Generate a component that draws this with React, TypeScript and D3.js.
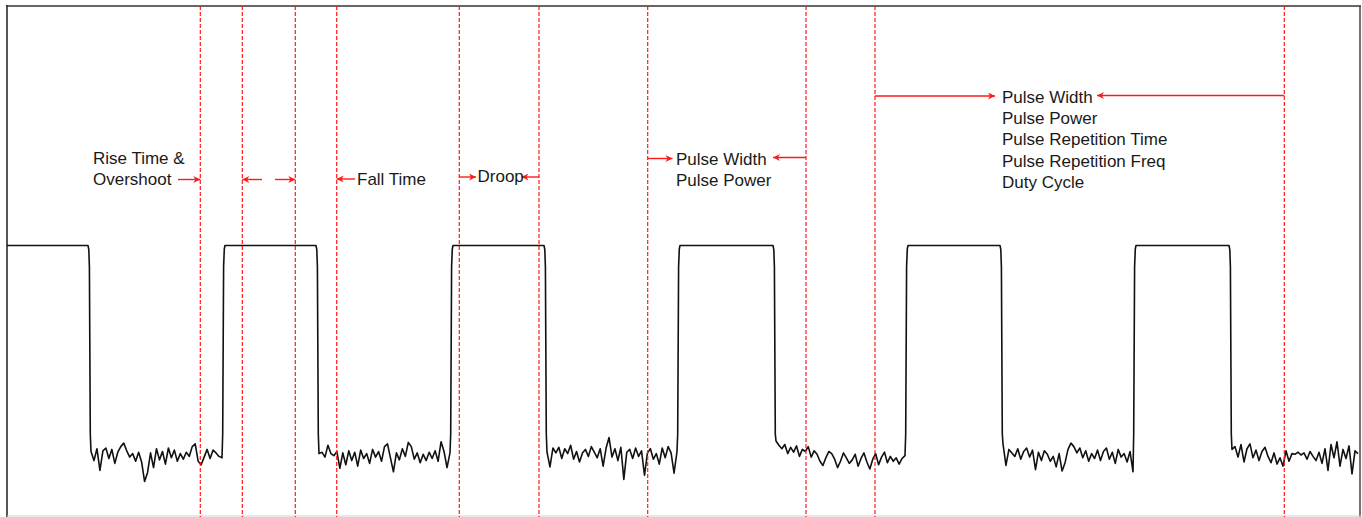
import React from "react";
import * as d3 from "d3";

const W = 1362;
const H = 517;

// Signal levels (dB, relative)
const highLevel = 0;
const lowLevel = -30;

// Edge timing (time units)
const fallStarts = [81, 309, 537, 766, 993, 1222];
const riseStarts = [215, 443, 670, 898, 1126];
const edgeDuration = 3;
const endTime = 1351;

// Noise on the "off" level, per low segment (dB offset from low level)
const noise1 = [0.5, -0.8, 0.9, -2.2, 0.6, 1.0, -0.5, 0.8, -1.2, 0.4, 1.2, 1.7, 0.6, -0.3, 0.2, -0.9, 0.4, -1.0, -3.8, -2.5, 0.3, -1.8, 0.9, -0.7, 0.5, -1.3, 1.0, -0.4, 0.7, -0.9, 0.2, -0.6, 0.4, -0.2, 1.2, 1.6, -0.9, -1.4, -0.3, 0.8, -0.5, 0.7, 0.3, -0.2, -0.4];
const noise2 = [0.2, 0.4, -0.3, 1.4, 0.2, -0.1, 0.5, -1.9, 0.3, -1.4, 0.6, -0.8, 0.4, -1.6, 0.7, -0.5, 0.2, -1.2, 0.8, -0.3, 0.5, -0.9, 1.2, 1.6, -0.4, -2.4, 0.3, -0.7, 0.9, -0.2, 1.8, 1.2, -0.6, 0.3, -1.1, 0.1, -0.8, 0.4, -0.5, 0.6, -0.9, 1.9, 0.5, -1.8, 0.3];
const noise3 = [0.4, -1.7, 1.0, 0.3, 1.1, -0.5, 0.9, 0.2, 1.4, -0.6, 0.5, -1.0, 0.3, 0.8, -0.2, 1.2, 0.4, -0.4, 0.9, -1.6, 1.0, 2.5, -0.3, 0.9, -0.8, 1.1, -3.5, 0.4, 0.8, -0.5, 1.0, -0.2, 0.6, -2.9, 0.3, 0.9, -0.6, 0.2, -1.3, 1.0, -0.4, 1.2, 0.3, -2.6, 0.5];
const noise4 = [2.0, 1.4, 0.9, 1.5, 0.2, 1.1, 0.4, 1.3, -0.2, 0.8, 0.5, 1.2, -0.3, 0.6, 0.1, -0.9, -1.5, -0.4, 0.5, 0.2, -0.6, -1.8, -0.9, 0.3, -0.4, -1.2, -0.7, 0.1, -1.6, -0.5, 0.3, -1.0, -2.0, -0.6, 0.2, -1.4, -0.3, 0.4, -1.1, -0.2, -0.9, -0.4, -1.3, -0.5, -0.1];
const noise5 = [1.6, -1.5, 0.8, 0.3, -0.2, 0.9, -0.6, 0.5, 1.0, -0.3, 0.7, -2.1, 0.4, -0.8, 0.6, 0.1, -0.9, -0.2, -1.7, 0.2, -2.3, -1.1, 0.8, 1.7, 1.2, 0.3, 1.0, -0.4, 0.6, -0.9, 0.2, -0.5, 0.7, -0.8, 0.5, 1.0, -0.6, 0.4, -1.2, 0.8, -0.3, 0.2, -1.0, 0.5, -2.4];
const noise6 = [0.8, 1.2, -0.3, 1.5, -1.0, 0.9, 1.6, -0.4, 0.7, -0.8, 0.5, 1.1, -0.2, -1.1, 0.3, -1.3, -0.4, -1.6, 0.6, -0.9, 0.2, 0.1, 0.4, 0.0, 0.3, -0.6, 0.5, -0.2, -0.8, 0.4, -1.2, 0.9, -2.2, 1.5, -0.4, 1.9, -1.6, 0.8, -0.5, 1.3, -2.7, 0.6, 0.2];
const noiseSegments = [noise1, noise2, noise3, noise4, noise5, noise6];

// Measurement marker times
const markerTimes = [193.3, 235.3, 288.3, 329.7, 452.3, 532, 640.7, 799, 868, 1277.3];

// Annotation arrows: tail time -> head time at a vertical pixel level
const arrowTails = [171, 255, 268, 348, 452.3, 532, 640.7, 799, 868, 1277.3];
const arrowHeads = [193.3, 235.3, 288.3, 329.7, 469, 514.5, 665.5, 766, 988, 1090];
const arrowLevels = [179.5, 179.5, 179.5, 179, 177, 177, 158.5, 157.5, 96, 95.5];

// Annotation texts
const labelLines = [
  ["Rise Time &", "Overshoot"],
  ["Fall Time"],
  ["Droop"],
  ["Pulse Width", "Pulse Power"],
  ["Pulse Width", "Pulse Power", "Pulse Repetition Time", "Pulse Repetition Freq", "Duty Cycle"],
];
const labelTimes = [86, 350, 470.5, 669, 995];
const labelBaselines = [164, 185, 182, 165, 102.5];

export default function App() {
  const x = d3.scaleLinear().domain([0, 1352]).range([7, 1359]);
  const y = d3.scaleLinear().domain([lowLevel, highLevel]).range([455, 245.5]);

  const pts: [number, number][] = [[0, highLevel]];
  fallStarts.forEach((f, i) => {
    pts.push([f, highLevel], [f + 0.8, highLevel - 0.6], [f + 1.4, highLevel - 3], [f + 2.3, lowLevel + 3]);
    const segStart = f + edgeDuration;
    const segEnd = i < riseStarts.length ? riseStarts[i] : endTime;
    const nz = noiseSegments[i];
    nz.forEach((v, j) => {
      pts.push([segStart + ((segEnd - segStart) * j) / (nz.length - 1), lowLevel + v]);
    });
    if (i < riseStarts.length) {
      const r = riseStarts[i];
      pts.push([r + 0.7, lowLevel + 3], [r + 1.6, highLevel - 3], [r + 2.3, highLevel - 0.5], [r + 3, highLevel]);
    }
  });

  const line = d3
    .line<[number, number]>()
    .x((d) => x(d[0]))
    .y((d) => y(d[1]));

  const red = "#ff1a1a";
  const fontFamily = "'Liberation Sans', Arial, sans-serif";

  return (
    <svg
      width={W}
      height={H}
      style={{ position: "absolute", left: 0, top: 0, background: "#fff" }}
    >
      <defs>
        <marker
          id="ah"
          viewBox="0 0 10 10"
          refX={10}
          refY={5}
          markerWidth={9}
          markerHeight={7}
          markerUnits="userSpaceOnUse"
          orient="auto"
        >
          <path d="M0,0 L10,5 L0,10 L3,5 Z" fill={red} />
        </marker>
      </defs>
      <rect x={0} y={0} width={W} height={H} fill="#fff" />

      {/* frame */}
      <line x1={7} y1={5} x2={7} y2={517} stroke="#555" strokeWidth={2} />
      <line x1={6} y1={6} x2={1361} y2={6} stroke="#333" strokeWidth={1.5} />
      <line x1={1360} y1={6} x2={1360} y2={517} stroke="#444" strokeWidth={1.5} />
      <line x1={7} y1={516} x2={1361} y2={516} stroke="#d0d0d0" strokeWidth={1} />

      {/* waveform */}
      <path
        d={line(pts) || ""}
        fill="none"
        stroke="#111"
        strokeWidth={1.6}
        strokeLinejoin="round"
      />

      {/* markers */}
      {markerTimes.map((t, i) => (
        <line
          key={"m" + i}
          x1={x(t)}
          x2={x(t)}
          y1={6}
          y2={517}
          stroke={red}
          strokeWidth={1.2}
          strokeDasharray="4,2"
        />
      ))}

      {/* arrows */}
      {arrowTails.map((t, i) => (
        <line
          key={"a" + i}
          x1={x(t)}
          x2={x(arrowHeads[i])}
          y1={arrowLevels[i]}
          y2={arrowLevels[i]}
          stroke={red}
          strokeWidth={1.4}
          markerEnd="url(#ah)"
        />
      ))}

      {/* labels */}
      {labelLines.map((lines, i) => (
        <text
          key={"l" + i}
          x={x(labelTimes[i])}
          y={labelBaselines[i]}
          fontFamily={fontFamily}
          fontSize={17}
          fill="#1a1a1a"
        >
          {lines.map((s, j) => (
            <tspan key={j} x={x(labelTimes[i])} dy={j === 0 ? 0 : 21.4}>
              {s}
            </tspan>
          ))}
        </text>
      ))}
    </svg>
  );
}
